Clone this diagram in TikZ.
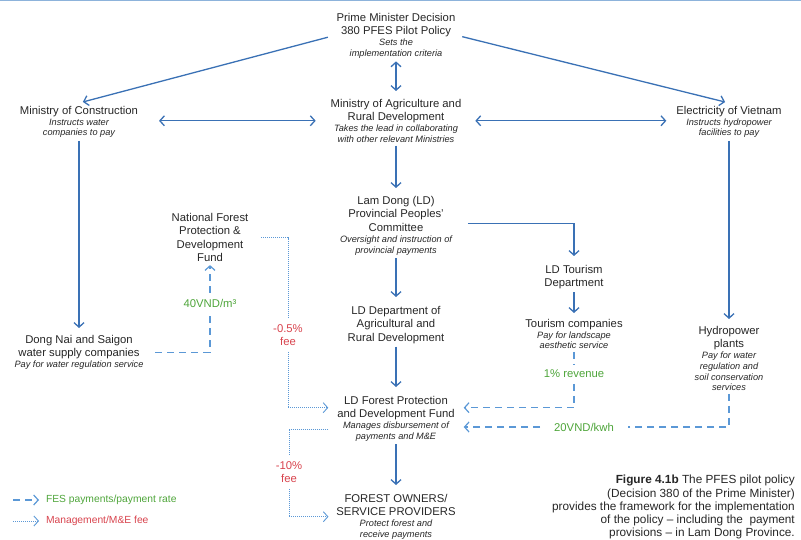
\documentclass[tikz,border=0pt]{standalone}
\usepackage{fontspec}
\setmainfont{Liberation Sans}
\usetikzlibrary{positioning,arrows.meta}

\definecolor{flowblue}{HTML}{3A71B5}
\definecolor{feeblue}{HTML}{5B98D6}
\definecolor{rategreen}{HTML}{4EA53A}
\definecolor{feered}{HTML}{D8434D}
\definecolor{inkgray}{HTML}{262626}
\definecolor{topblue}{HTML}{8DB3DB}

\newcommand{\descr}[1]{{\fontsize{9.2}{11}\selectfont\itshape #1}}

\begin{document}
\begin{tikzpicture}[x=1pt, y=-1pt,
    >={Straight Barb[length=4.5pt,width=10pt]},
    box/.style={anchor=north, align=center, inner sep=0pt, outer sep=3pt,
                text=inkgray, font=\fontsize{11.3}{13.6}\selectfont},
    rate/.style={align=center, inner sep=0pt, outer sep=6pt,
                 font=\fontsize{11.3}{13.6}\selectfont},
    legend/.style={anchor=west, inner sep=0pt, outer sep=3pt,
                   font=\fontsize{10.3}{12}\selectfont},
    flow/.style={draw=flowblue, line width=1.3pt},
    fes/.style={draw=feeblue, line width=1.2pt, dash pattern=on 7pt off 5pt},
    fee/.style={draw=feeblue, line width=0.9pt, dash pattern=on 1pt off 1pt},
  ]
  \useasboundingbox (0,0) rectangle (801,540);
  \draw[topblue, line width=1.5pt] (0,0.75) -- (801,0.75);

  % national level
  \node[box] (pm) at (396,10) {Prime Minister Decision\\380 PFES Pilot Policy\\[-2.5pt]\descr{Sets the}\\[-3pt]\descr{implementation criteria}};
  \node[box] (moa) at (396,96) {Ministry of Agriculture and\\Rural Development\\[-2.5pt]\descr{Takes the lead in collaborating}\\[-3pt]\descr{with other relevant Ministries}};
  \node[box] (moc) at (79,103) {Ministry of Construction\\[-2.5pt]\descr{Instructs water}\\[-3pt]\descr{companies to pay}};
  \node[box] (evn) at (729,103) {Electricity of Vietnam\\[-2.5pt]\descr{Instructs hydropower}\\[-3pt]\descr{facilities to pay}};

  % provincial level
  \node[box] (ldc) at (396,193) {Lam Dong (LD)\\Provincial Peoples’\\Committee\\[-2.5pt]\descr{Oversight and instruction of}\\[-3pt]\descr{provincial payments}};
  \node[box] (ldd) at (396,303) {LD Department of\\Agricultural and\\Rural Development};
  \node[box] (ldf) at (396,393) {LD Forest Protection\\and Development Fund\\[-2.5pt]\descr{Manages disbursement of}\\[-3pt]\descr{payments and M\&E}};
  \node[box] (fo) at (396,491) {FOREST OWNERS/\\SERVICE PROVIDERS\\[-2.5pt]\descr{Protect forest and}\\[-3pt]\descr{receive payments}};
  \node[box] (ltd) at (574,262) {LD Tourism\\Department};

  % service users and national fund
  \node[box] (tc) at (574,316) {Tourism companies\\[-2.5pt]\descr{Pay for landscape}\\[-3pt]\descr{aesthetic service}};
  \node[box] (hp) at (729,323) {Hydropower\\plants\\[-2.5pt]\descr{Pay for water}\\[-3pt]\descr{regulation and}\\[-3pt]\descr{soil conservation}\\[-3pt]\descr{services}};
  \node[box] (dn) at (79,332) {Dong Nai and Saigon\\water supply companies\\[-2.5pt]\descr{Pay for water regulation service}};
  \node[box] (nf) at (210,210) {National Forest\\Protection \&\\Development\\Fund};

  % rates and fees
  \node[rate, text=rategreen] (rate40) at (210,303) {40VND/m³};
  \node[rate, text=rategreen] (rev1) at (574,374) {1\% revenue};
  \node[rate, text=rategreen, outer xsep=14pt] (rate20) at (584,427) {20VND/kwh};
  \node[rate, text=feered] (fee05) at (288,335) {-0.5\%\\fee};
  \node[rate, text=feered] (fee10) at (289,472) {-10\%\\fee};

  % chain of command
  \draw[flow,<->,shorten >=5pt] (pm.south) -- (moa.north);
  \draw[flow,->,shorten <=6pt,shorten >=4pt] (pm.west) -- (moc.north);
  \draw[flow,->,shorten <=4pt,shorten >=4pt] (pm.east) -- (evn.north);
  \draw[flow,<->,shorten <=18pt,shorten >=12pt] (moa.west -| moc.east) -- (moa.west);
  \draw[flow,<->,shorten <=11pt,shorten >=7pt] (moa.east) -- (moa.east -| evn.west);
  \draw[flow,->,shorten >=4pt] (moc.south) -- (dn.north);
  \draw[flow,->,shorten >=4pt] (evn.south) -- (hp.north);
  \draw[flow,->,shorten >=5pt] (moa.south) -- (ldc.north);
  \draw[flow,->,shorten >=6pt] (ldc.south) -- (ldd.north);
  \draw[flow,->,shorten >=6pt] (ldd.south) -- (ldf.north);
  \draw[flow,->,shorten >=6pt] (ldf.south) -- (fo.north);
  \draw[flow,->,shorten <=13pt,shorten >=6pt] ([yshift=2pt]ldc.east) -| (ltd.north);
  \draw[flow,->,shorten >=3pt] (ltd.south) -- (tc.north);

  % FES payments
  \draw[fes,shorten <=9pt] (dn.east) -| (rate40.south);
  \draw[fes,->] (rate40.north) -- (nf.south);
  \draw[fes] (tc.south) -- (rev1.north);
  \draw[fes,->,shorten >=6pt] (rev1.south) |- ([yshift=11pt]ldf.east);
  \draw[fes] (hp.south) |- (rate20.east);
  \draw[fes,->,shorten >=6pt] (rate20.west) -- (rate20.west -| ldf.east);

  % management fees
  \draw[fee,shorten <=10pt] (nf.east) -| (fee05.north);
  \draw[fee,->,shorten >=6pt] (fee05.south) |- ([yshift=11pt]ldf.west);
  \draw[fee,shorten <=6pt] ([yshift=-11pt]ldf.west) -| (fee10.north);
  \draw[fee,->,shorten >=5pt] (fee10.south) |- (fo.west);

  % legend
  \node[legend, text=rategreen] (legfes) at (43,500) {FES payments/payment rate};
  \node[legend, text=feered] (legfee) at (43,521) {Management/M\&E fee};
  \coordinate (legfesA) at (13,500);
  \coordinate (legfeeA) at (13,521);
  \draw[fes,->,shorten >=4pt] (legfesA) -- (legfes.west);
  \draw[fee,->,shorten >=4pt] (legfeeA) -- (legfee.west);

  % caption
  \node[anchor=north east, align=right, inner sep=0pt, text=inkgray,
        font=\fontsize{11.8}{13.3}\selectfont] (cap) at (795,475)
    {\textbf{Figure 4.1b} The PFES pilot policy\\(Decision 380 of the Prime Minister)\\provides the framework for the implementation\\of the policy – including the\ \ payment\\provisions – in Lam Dong Province.};
\end{tikzpicture}
\end{document}
